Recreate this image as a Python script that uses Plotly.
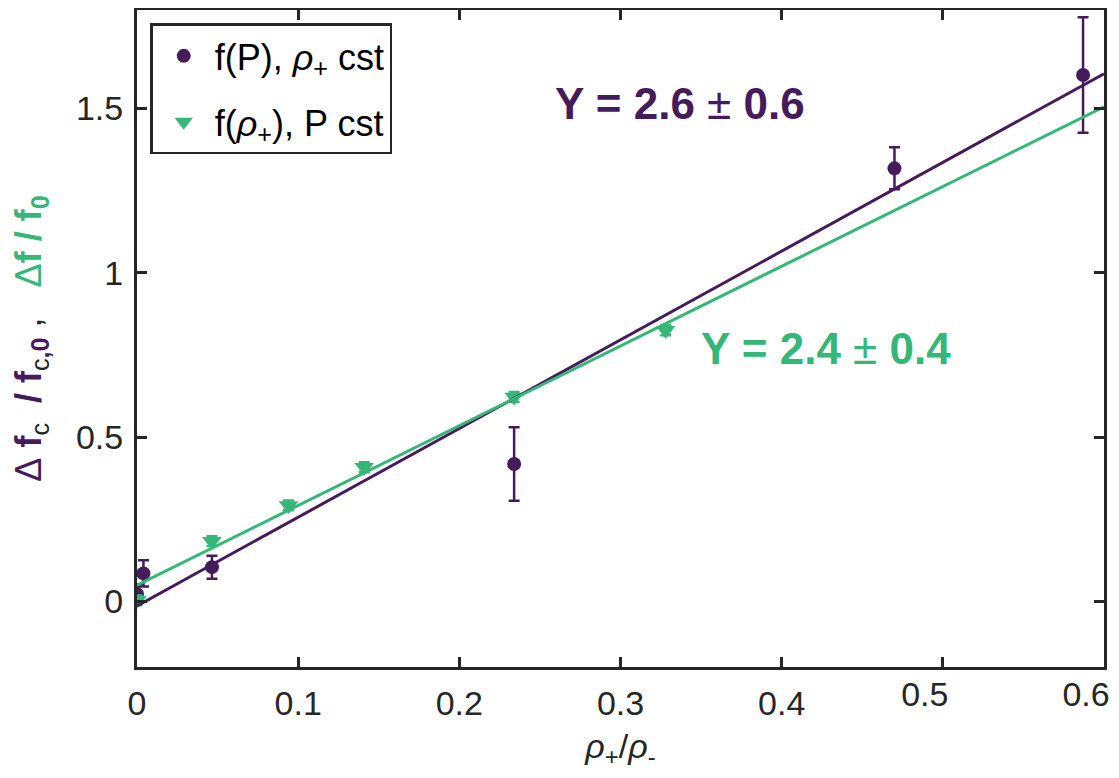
import plotly.graph_objects as go

# ---- data ----
xP = [0.0, 0.004, 0.0465, 0.234, 0.470, 0.587]
yP = [0.022, 0.085, 0.104, 0.418, 1.318, 1.602]
eP = [0.03, 0.04, 0.035, 0.112, 0.064, 0.176]

xR = [0.0, 0.0465, 0.094, 0.141, 0.234, 0.328]
yR = [0.003, 0.183, 0.292, 0.408, 0.622, 0.825]
eR = [0.015, 0.015, 0.015, 0.015, 0.015, 0.015]

fitP = {"slope": 2.70, "intercept": -0.014}
fitR = {"slope": 2.427, "intercept": 0.049}
fit_x = [0.0, 0.6]

# x tick labels: the last two are drawn slightly left of their ticks in the
# reference, so they go on an overlaid copy of the x axis
xticks_a = [0, 0.1, 0.2, 0.3, 0.4, 0.5, 0.6]
xticklabels_a = ["0", "0.1", "0.2", "0.3", "0.4", "", ""]
xticks_b = [0.5, 0.6]
xticklabels_b = ["0.5", "0.6"]
yticks = [0, 0.5, 1, 1.5]
yticklabels = ["0", "0.5", "1", "1.5"]

PURPLE = "#461b5c"
GREEN = "#35b779"
AX = "#262626"
FONT = "Liberation Sans, Arial, Helvetica, sans-serif"
NB = "\u00a0"

fig = go.Figure()

fig.add_trace(go.Scatter(
    x=xP, y=yP, mode="markers", name="f(P), <i>ρ</i><sub>+</sub> cst",
    legendgroup="a",
    marker=dict(symbol="circle", size=14, color=PURPLE),
    error_y=dict(type="data", array=eP, visible=True, color=PURPLE, thickness=2.5, width=5.5),
))
fig.add_trace(go.Scatter(
    x=xR, y=yR, mode="markers", name="f(<i>ρ</i><sub>+</sub>), P cst",
    legendgroup="b",
    marker=dict(symbol="triangle-down", size=17, color=GREEN),
    error_y=dict(type="data", array=eR, visible=True, color=GREEN, thickness=2.5, width=5.5),
))
fig.add_trace(go.Scatter(
    x=fit_x, y=[fitP["slope"] * v + fitP["intercept"] for v in fit_x],
    mode="lines", line=dict(color=PURPLE, width=3), showlegend=False, hoverinfo="skip",
))
fig.add_trace(go.Scatter(
    x=fit_x, y=[fitR["slope"] * v + fitR["intercept"] for v in fit_x],
    mode="lines", line=dict(color=GREEN, width=3), showlegend=False, hoverinfo="skip",
))
# invisible trace that carries the overlaid x axis
fig.add_trace(go.Scatter(
    x=fit_x, y=[fitP["slope"] * v + fitP["intercept"] for v in fit_x],
    xaxis="x2", mode="lines", line=dict(color="rgba(0,0,0,0)", width=0),
    showlegend=False, hoverinfo="skip",
))

fig.add_annotation(x=0.337, y=1.516, xref="x", yref="y", showarrow=False,
                   text="<b>Y = 2.6</b> ± <b>0.6</b>",
                   font=dict(family=FONT, size=44, color=PURPLE))
fig.add_annotation(x=0.4276, y=0.770, xref="x", yref="y", showarrow=False,
                   text="<b>Y = 2.4</b> ± <b>0.4</b>",
                   font=dict(family=FONT, size=44, color=GREEN))

ytitle = (f"<span style='color:{PURPLE}'>Δ{NB}<b>f</b></span>"
          f"<sub><span style='color:{AX}'>c</span></sub>"
          f"<span style='color:{PURPLE}'><b>{NB}{NB}/{NB}f</b></span>"
          f"<sub><span style='color:{AX}'>c</span><span style='color:{PURPLE}'><b>,0</b></span></sub>"
          f"<span style='color:{AX}'>{NB},{NB}{NB}{NB}</span>"
          f"<span style='color:{GREEN}'>Δ<b>f{NB}/{NB}f</b></span>"
          f"<sub><span style='color:{GREEN}'><b>0</b></span></sub>"
          f"{NB}{NB}{NB}")

tick_common = dict(
    range=[0, 0.6], tickmode="array",
    ticks="inside", ticklen=10, tickwidth=3, tickcolor=AX,
    showgrid=False, zeroline=False, automargin=False,
    tickfont=dict(family=FONT, size=34, color=AX), ticklabelstandoff=4,
    ticklabeloverflow="allow",
)

# the page body adds an 8 px margin on every side; the figure is sized so the
# whole page is 1119 x 778
fig.update_layout(
    width=1103, height=762,
    margin=dict(l=129, r=7, t=2, b=103, autoexpand=False),
    paper_bgcolor="white", plot_bgcolor="white",
    font=dict(family=FONT, color=AX),
    showlegend=True,
    legend=dict(
        x=0.0137, y=0.9795, xanchor="left", yanchor="top",
        bgcolor="white", bordercolor=AX, borderwidth=2.5,
        font=dict(family=FONT, size=36, color="black"),
        itemwidth=52, tracegroupgap=16,
    ),
    xaxis=dict(
        tickvals=xticks_a, ticktext=xticklabels_a,
        showline=True, linewidth=3, linecolor=AX, mirror="ticks",
        title=dict(text="<i>ρ</i><sub>+</sub>/<i>ρ</i><sub>-</sub>",
                   font=dict(family=FONT, size=34, color=AX), standoff=24),
        **tick_common,
    ),
    xaxis2=dict(
        tickvals=xticks_b, ticktext=xticklabels_b,
        overlaying="x", anchor="y", side="bottom",
        showline=False, ticklabelshift=-18,
        **tick_common,
    ),
    yaxis=dict(
        range=[-0.2, 1.8], tickmode="array", tickvals=yticks, ticktext=yticklabels,
        showline=True, linewidth=3, linecolor=AX, mirror="ticks",
        ticks="inside", ticklen=10, tickwidth=3, tickcolor=AX,
        showgrid=False, zeroline=False, automargin=False,
        tickfont=dict(family=FONT, size=34, color=AX), ticklabelstandoff=4,
        title=dict(text=ytitle, font=dict(family=FONT, size=36, color=PURPLE), standoff=26),
    ),
)

fig.write_html("out.html")
